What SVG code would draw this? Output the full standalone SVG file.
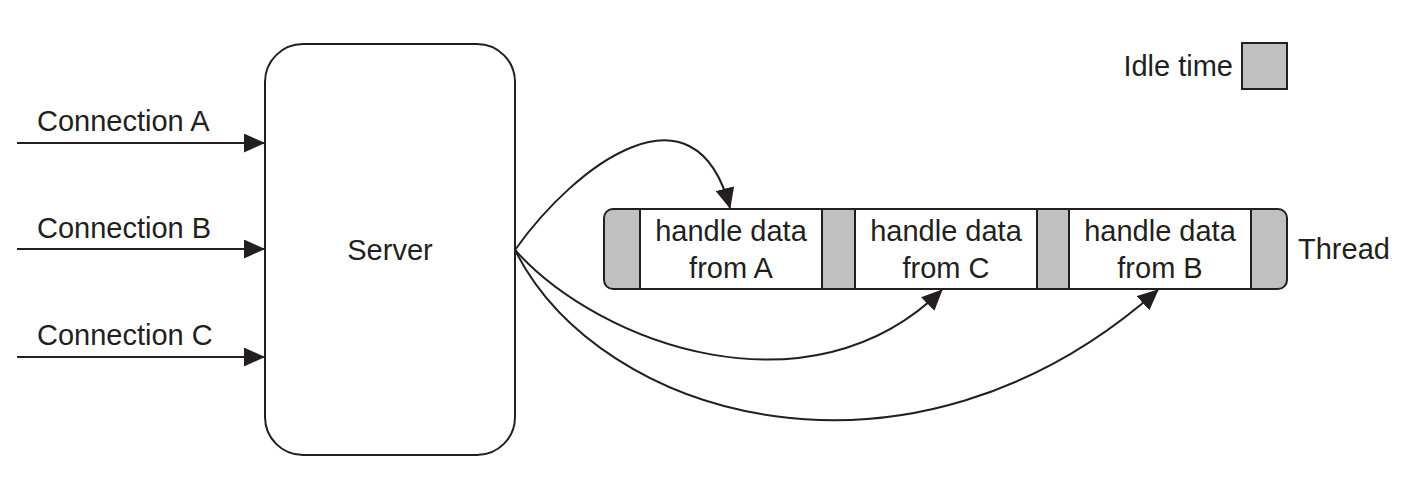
<svg xmlns="http://www.w3.org/2000/svg" width="1412" height="482" viewBox="0 0 1412 482">
<defs>
<style>
text{font-family:"Liberation Sans",Arial,sans-serif;font-size:29px;fill:#231f20}
.ln{fill:none;stroke:#231f20;stroke-width:2}
.box{fill:#fff;stroke:#231f20;stroke-width:2}
.idle{fill:#c0c0c0;stroke:#231f20;stroke-width:2}
.mid{text-anchor:middle}
</style>
<marker id="ahb" markerWidth="21" markerHeight="19" refX="20" refY="9.5" orient="auto" markerUnits="userSpaceOnUse" viewBox="0 0 21 19">
<path d="M0,0 L21,9.5 L0,19 Z" fill="#231f20"/>
</marker>
</defs>
<rect width="1412" height="482" fill="#fff"/>

<g id="legend">
<text x="1233" y="76" text-anchor="end">Idle time</text>
<rect class="idle" x="1242" y="43" width="45" height="46"/>
</g>

<g id="server">
<rect class="box" x="265" y="44" width="250" height="411" rx="38"/>
<text class="mid" x="390" y="260">Server</text>
</g>

<g id="thread">
<rect class="idle" x="604" y="209" width="683" height="80" rx="9"/>
<rect class="box" x="640" y="209" width="182" height="80"/>
<rect class="box" x="855" y="209" width="182" height="80"/>
<rect class="box" x="1069" y="209" width="182" height="80"/>
<text x="1298" y="259">Thread</text>
</g>
<g id="taskA">
<text class="mid" x="731" y="241">handle data</text>
<text class="mid" x="731" y="278">from A</text>
</g>
<g id="taskC">
<text class="mid" x="946" y="241">handle data</text>
<text class="mid" x="946" y="278">from C</text>
</g>
<g id="taskB">
<text class="mid" x="1160" y="241">handle data</text>
<text class="mid" x="1160" y="278">from B</text>
</g>

<g id="labels">
<text x="37" y="131">Connection A</text>
<text x="37" y="238">Connection B</text>
<text x="37" y="345">Connection C</text>
</g>

<g id="connectors">
<line class="ln" x1="17" y1="143" x2="264" y2="143" marker-end="url(#ahb)"/>
<line class="ln" x1="17" y1="249" x2="264" y2="249" marker-end="url(#ahb)"/>
<line class="ln" x1="17" y1="357" x2="264" y2="357" marker-end="url(#ahb)"/>
<path class="ln" d="M515,250 C575,165 695,75 730,208" marker-end="url(#ahb)"/>
<path class="ln" d="M515,250 C600,345 810,420 942,290" marker-end="url(#ahb)"/>
<path class="ln" d="M515,250 C600,420 910,510 1158,290" marker-end="url(#ahb)"/>
</g>
</svg>
